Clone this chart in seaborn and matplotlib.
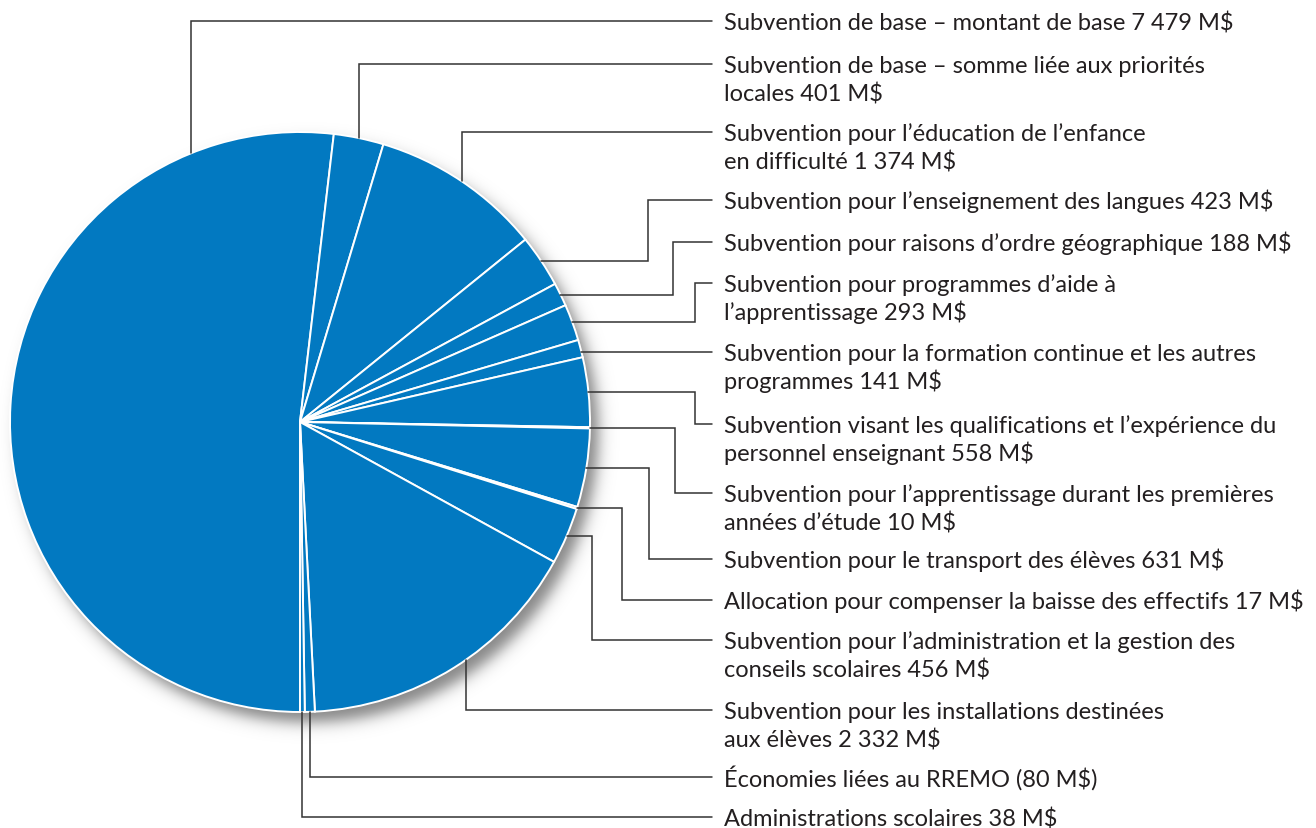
import numpy as np
import matplotlib
matplotlib.use("Agg")
import matplotlib.pyplot as plt
import seaborn as sns

# ---------------- data ----------------
labels = [
    "Subvention de base – montant de base 7 479 M$",
    "Subvention de base – somme liée aux priorités\nlocales 401 M$",
    "Subvention pour l’éducation de l’enfance\nen difficulté 1 374 M$",
    "Subvention pour l’enseignement des langues 423 M$",
    "Subvention pour raisons d’ordre géographique 188 M$",
    "Subvention pour programmes d’aide à\nl’apprentissage 293 M$",
    "Subvention pour la formation continue et les autres\nprogrammes 141 M$",
    "Subvention visant les qualifications et l’expérience du\npersonnel enseignant 558 M$",
    "Subvention pour l’apprentissage durant les premières\nannées d’étude 10 M$",
    "Subvention pour le transport des élèves 631 M$",
    "Allocation pour compenser la baisse des effectifs 17 M$",
    "Subvention pour l’administration et la gestion des\nconseils scolaires 456 M$",
    "Subvention pour les installations destinées\naux élèves 2 332 M$",
    "Économies liées au RREMO (80 M$)",
    "Administrations scolaires 38 M$",
]
values = [7479, 401, 1374, 423, 188, 293, 141, 558, 10, 631, 17, 456, 2332, 80, 38]

# ---------------- layout (pixel space, y from top) ----------------
W, H = 1316, 829
CX, CY_PX, R = 300, 423, 290
label_y_px = [22, 65, 133, 201, 243, 284, 353, 425, 494, 560, 601, 641, 711, 778, 818]
# leader style: 'v' = vertical from slice edge, 'h' = horizontal then elbow, 'd' = direct horizontal
leader_kind = ['v', 'v', 'v', 'h', 'h', 'h', 'd', 'h', 'h', 'h', 'h', 'h', 'v', 'v', 'v']
elbow_x = [None, None, None, 648, 673, 695, None, 695, 675, 649, 622, 592, None, None, None]
anchor_frac = [0.846, 0.5, 0.5, 0.5, 0.5, 0.5, 0.5, 0.5, 0.5, 0.5, 0.5, 0.5, 0.45, 0.5, 0.5]
line_end_x = 712
text_x = 724
line_step = 28
font_size = 17.0

pie_color = "#0279C1"
line_color = "#333333"
text_color = "#231F20"

sns.set_theme(style="white")
plt.rcParams['font.family'] = ['Lato', 'DejaVu Sans']

fig = plt.figure(figsize=(W / 100, H / 100), dpi=100)
ax = fig.add_axes([0, 0, 1, 1])

cy = H - CY_PX

# soft drop shadow
gx = np.linspace(CX - R - 80, CX + R + 80, 500)
gy = np.linspace(cy - R - 80, cy + R + 80, 500)
X, Y = np.meshgrid(gx, gy)
d = np.hypot(X - (CX + 9), Y - (cy - 11))
alpha = 0.48 * 0.5 * (1 - np.tanh((d - R) / 9.0))
img = np.zeros((500, 500, 4))
img[..., 3] = alpha
ax.imshow(img, extent=(gx[0], gx[-1], gy[0], gy[-1]), origin="lower",
          interpolation="bilinear", zorder=0)

wedges, _ = ax.pie(values, startangle=-90, counterclock=False, center=(CX, cy), radius=R,
                   colors=[pie_color] * len(values), frame=True,
                   wedgeprops=dict(edgecolor="white", linewidth=1.4, zorder=2))

cap_half = 0.3583 * font_size * 100 / 72  # half cap-height of Lato, in pixels

for i, w in enumerate(wedges):
    ly = H - label_y_px[i]
    kind = leader_kind[i]
    if kind == 'd':
        ay = ly
        ax_ = CX + np.sqrt(R ** 2 - (ay - cy) ** 2)
        xs, ys = [ax_, line_end_x], [ay, ay]
    else:
        ang = np.deg2rad(w.theta2 - anchor_frac[i] * (w.theta2 - w.theta1))
        ax_ = CX + R * np.cos(ang)
        ay = cy + R * np.sin(ang)
        if kind == 'v':
            xs, ys = [ax_, ax_, line_end_x], [ay, ly, ly]
        else:
            ex = elbow_x[i]
            xs, ys = [ax_, ex, ex, line_end_x], [ay, ay, ly, ly]
    ax.plot(xs, ys, color=line_color, lw=1.1, solid_joinstyle="miter", zorder=3)
    for k, line in enumerate(labels[i].split("\n")):
        ax.text(text_x, ly - cap_half - k * line_step, line, ha="left", va="baseline",
                fontsize=font_size, color=text_color, zorder=4)

ax.set_xlim(0, W)
ax.set_ylim(0, H)
ax.set_aspect("equal")
ax.axis("off")
fig.savefig("out.png", dpi=100, facecolor="white")
